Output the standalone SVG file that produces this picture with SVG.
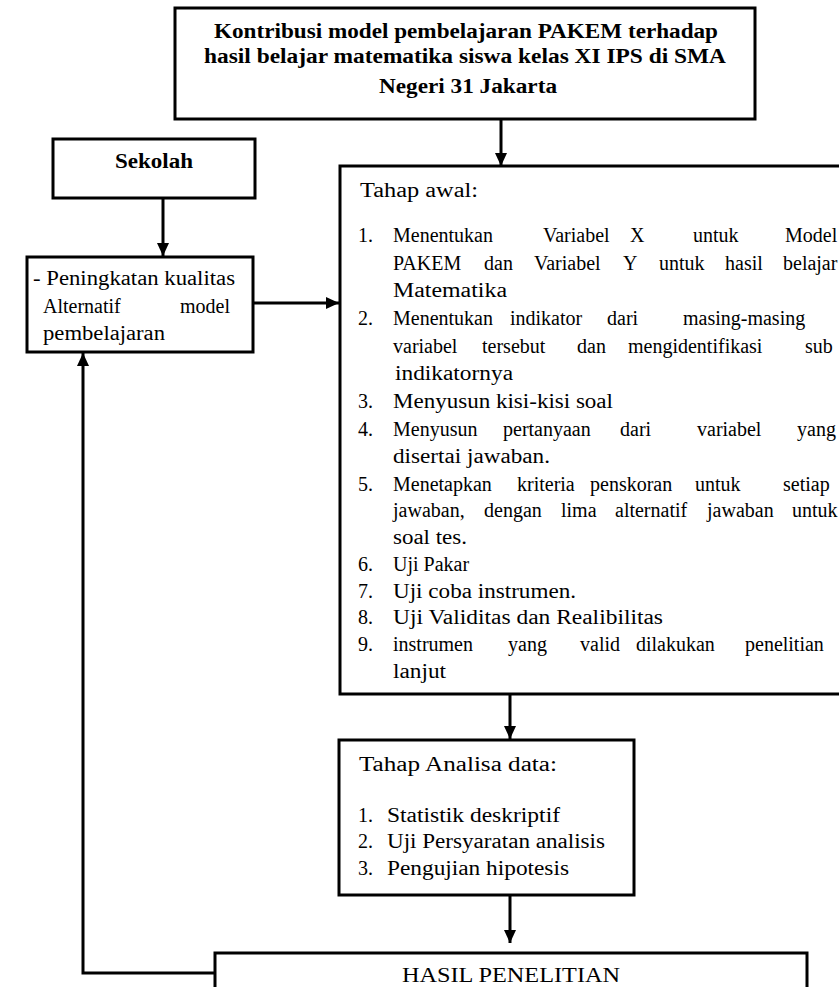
<svg xmlns="http://www.w3.org/2000/svg" width="839" height="987" viewBox="0 0 839 987">
<style>
.box{fill:#fff;stroke:#000;stroke-width:3}
.t{font-family:"Liberation Serif","Times New Roman",serif;font-size:20px;fill:#000}
.b{font-weight:bold}
.c{text-anchor:middle}
.ln{fill:none;stroke:#000;stroke-width:3}
</style>
<defs>
<marker id="ah" markerUnits="userSpaceOnUse" markerWidth="14" markerHeight="14" viewBox="0 0 14 14" refX="13" refY="7" orient="auto">
<path d="M0,1 L13,7 L0,13 Z" fill="#000"/>
</marker>
</defs>
<rect width="839" height="987" fill="#fff"/>

<g id="judul">
<rect class="box" x="175" y="8" width="580" height="111"/>
<text class="t b c" x="466" y="38" textLength="504" lengthAdjust="spacingAndGlyphs">Kontribusi model pembelajaran PAKEM terhadap</text>
<text class="t b c" x="465" y="63" textLength="522" lengthAdjust="spacingAndGlyphs">hasil belajar matematika siswa kelas XI IPS di SMA</text>
<text class="t b c" x="468" y="93" textLength="178" lengthAdjust="spacingAndGlyphs">Negeri 31 Jakarta</text>
</g>

<g id="sekolah">
<rect class="box" x="53" y="139" width="202" height="59"/>
<text class="t b c" x="154" y="168" textLength="78" lengthAdjust="spacingAndGlyphs">Sekolah</text>
</g>

<g id="peningkatan">
<rect class="box" x="27" y="257" width="226" height="95"/>
<text class="t" x="33" y="285" textLength="202" lengthAdjust="spacingAndGlyphs">- Peningkatan kualitas</text>
<text class="t" x="43" y="313">Alternatif</text>
<text class="t" x="180" y="313">model</text>
<text class="t" x="43" y="340" textLength="122" lengthAdjust="spacingAndGlyphs">pembelajaran</text>
</g>

<g id="tahap-awal">
<rect class="box" x="340" y="166" width="520" height="528"/>
<text class="t" x="360" y="197" textLength="118" lengthAdjust="spacingAndGlyphs">Tahap awal:</text>
<text class="t" x="358" y="242">1.</text>
<text class="t" y="242"><tspan x="393">Menentukan</tspan><tspan x="543">Variabel</tspan><tspan x="630">X</tspan><tspan x="693">untuk</tspan><tspan x="785">Model</tspan></text>
<text class="t" y="270"><tspan x="393">PAKEM</tspan><tspan x="484">dan</tspan><tspan x="534">Variabel</tspan><tspan x="623">Y</tspan><tspan x="659">untuk</tspan><tspan x="725">hasil</tspan><tspan x="783">belajar</tspan></text>
<text class="t" x="393" y="297" textLength="114" lengthAdjust="spacingAndGlyphs">Matematika</text>
<text class="t" x="358" y="325">2.</text>
<text class="t" y="325"><tspan x="393">Menentukan</tspan><tspan x="510">indikator</tspan><tspan x="607">dari</tspan><tspan x="683">masing-masing</tspan></text>
<text class="t" y="353"><tspan x="393">variabel</tspan><tspan x="482">tersebut</tspan><tspan x="577">dan</tspan><tspan x="628">mengidentifikasi</tspan><tspan x="805">sub</tspan></text>
<text class="t" x="395" y="380" textLength="118" lengthAdjust="spacingAndGlyphs">indikatornya</text>
<text class="t" x="358" y="408">3.</text>
<text class="t" x="393" y="408" textLength="220" lengthAdjust="spacingAndGlyphs">Menyusun kisi-kisi soal</text>
<text class="t" x="358" y="436">4.</text>
<text class="t" y="436"><tspan x="393">Menyusun</tspan><tspan x="503">pertanyaan</tspan><tspan x="620">dari</tspan><tspan x="697">variabel</tspan><tspan x="797">yang</tspan></text>
<text class="t" x="393" y="463" textLength="157" lengthAdjust="spacingAndGlyphs">disertai jawaban.</text>
<text class="t" x="358" y="491">5.</text>
<text class="t" y="491"><tspan x="393">Menetapkan</tspan><tspan x="517">kriteria</tspan><tspan x="590">penskoran</tspan><tspan x="695">untuk</tspan><tspan x="783">setiap</tspan></text>
<text class="t" y="517"><tspan x="393">jawaban,</tspan><tspan x="484">dengan</tspan><tspan x="561">lima</tspan><tspan x="615">alternatif</tspan><tspan x="707">jawaban</tspan><tspan x="792">untuk</tspan></text>
<text class="t" x="393" y="544" textLength="74" lengthAdjust="spacingAndGlyphs">soal tes.</text>
<text class="t" x="358" y="571">6.</text>
<text class="t" x="393" y="571">Uji Pakar</text>
<text class="t" x="358" y="598">7.</text>
<text class="t" x="393" y="598" textLength="183" lengthAdjust="spacingAndGlyphs">Uji coba instrumen.</text>
<text class="t" x="358" y="624">8.</text>
<text class="t" x="393" y="624" textLength="270" lengthAdjust="spacingAndGlyphs">Uji Validitas dan Realibilitas</text>
<text class="t" x="358" y="651">9.</text>
<text class="t" y="651"><tspan x="393">instrumen</tspan><tspan x="508">yang</tspan><tspan x="580">valid</tspan><tspan x="636">dilakukan</tspan><tspan x="745">penelitian</tspan></text>
<text class="t" x="393" y="678" textLength="53" lengthAdjust="spacingAndGlyphs">lanjut</text>
</g>

<g id="tahap-analisa">
<rect class="box" x="339" y="740" width="295" height="155"/>
<text class="t" x="359" y="771" textLength="198" lengthAdjust="spacingAndGlyphs">Tahap Analisa data:</text>
<text class="t" x="358" y="822">1.</text>
<text class="t" x="387" y="822" textLength="173" lengthAdjust="spacingAndGlyphs">Statistik deskriptif</text>
<text class="t" x="358" y="848">2.</text>
<text class="t" x="387" y="848" textLength="218" lengthAdjust="spacingAndGlyphs">Uji Persyaratan analisis</text>
<text class="t" x="358" y="875">3.</text>
<text class="t" x="387" y="875" textLength="182" lengthAdjust="spacingAndGlyphs">Pengujian hipotesis</text>
</g>

<g id="hasil">
<rect class="box" x="215" y="953" width="592" height="60"/>
<text class="t c" x="511" y="982" font-size="22" textLength="218" lengthAdjust="spacingAndGlyphs">HASIL PENELITIAN</text>
</g>

<g id="connectors">
<line class="ln" x1="501" y1="119" x2="501" y2="166" marker-end="url(#ah)"/>
<line class="ln" x1="163" y1="198" x2="163" y2="256" marker-end="url(#ah)"/>
<line class="ln" x1="253" y1="303" x2="339" y2="303" marker-end="url(#ah)"/>
<line class="ln" x1="510" y1="694" x2="510" y2="739" marker-end="url(#ah)"/>
<line class="ln" x1="510" y1="895" x2="510" y2="943" marker-end="url(#ah)"/>
<polyline class="ln" points="215,973 83,973 83,353" marker-end="url(#ah)"/>
</g>
</svg>
